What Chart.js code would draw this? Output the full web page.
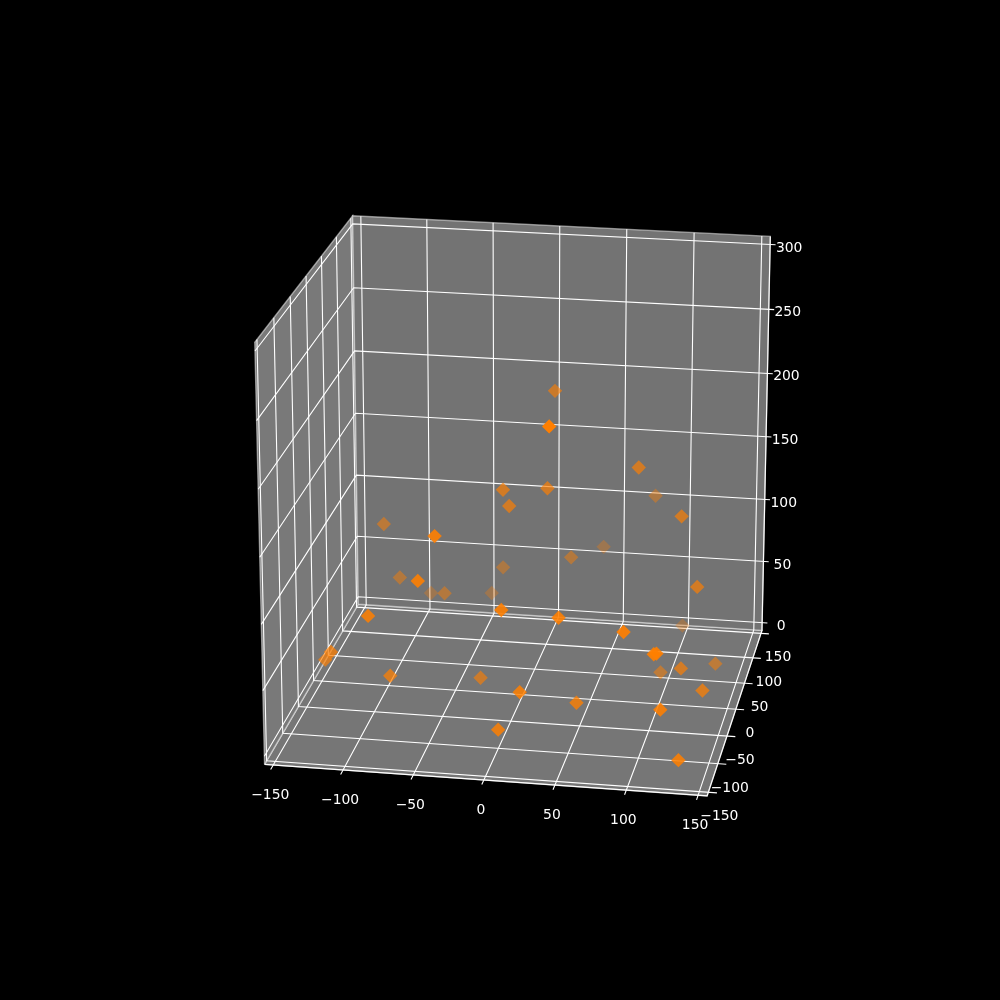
<!DOCTYPE html>
<html>
<head>
<meta charset="utf-8">
<style>body{margin:0;background:#000}canvas{display:block}</style>
<script src="https://cdn.jsdelivr.net/npm/chart.js@4"></script>
</head>
<body>
<canvas id="c" width="1000" height="1000"></canvas>
<script>
const xTicks = [-150, -100, -50, 0, 50, 100, 150];
const yTicks = [-150, -100, -50, 0, 50, 100, 150];
const zTicks = [0, 50, 100, 150, 200, 250, 300];

const xs = [18, 44, 84, 80, 116, -10, 21, -5, -107, -37, 37, 25, -28, -98, -47, -89, -65, -44, 130, 11, -82, 50, 96, 99, -118, -127, 117, 119, 137, 122, 98, -76, -22, 24, 141, 58, 122, 9, 135];
const ys = [30, -148, -3, 112, -9, -25, -19, -28, 23, -139, 140, 62, 74, 35, -149, 106, 37, 114, -25, -148, -150, -143, -149, 130, -109, -88, -149, -150, 30, -46, 21, -107, -50, -149, -72, -114, -149, -150, -149];
const zs = [220, 255, 177, 114, 144, 162, 163, 151, 112, 167, 60, 80, 64, 66, 137, 27, 55, 27, 97, 119, 109, 114, 109, 4, 63, 48, 94, 95, 16, 42, 10, 47, 26, 59, 37, 39, 53, 30, 16];

// same camera as a matplotlib 3d axes: elev 20, azim -80, dist 10
const rad = Math.PI / 180, el = 20 * rad, az = -80 * rad, dist = 10;
const n = [Math.cos(el) * Math.cos(az), Math.cos(el) * Math.sin(az), Math.sin(el)];
const u = [-Math.sin(az), Math.cos(az), 0];
const v = [n[1] * u[2] - n[2] * u[1], n[2] * u[0] - n[0] * u[2], n[0] * u[1] - n[1] * u[0]];
const dot = (a, b) => a[0] * b[0] + a[1] * b[1] + a[2] * b[2];

function project(x, y, z) {
  const p = [(x + 150) / 300 - 0.5, (y + 150) / 300 - 0.5, z / 300 - 0.5];
  const t = dot(n, p), w = dist - t;
  return { x: dot(u, p) / w, y: dot(v, p) / w, t };
}

const pad = 6.25;
const x0 = -150 - pad, x1 = 150 + pad, y0 = -150 - pad, y1 = 150 + pad, z0 = -pad, z1 = 300 + pad;

const line = (path, color, width, extra) => Object.assign({
  type: 'scatter', showLine: true, parsing: false, tension: 0, pointRadius: 0, fill: false,
  data: path.map(q => project(q[0], q[1], q[2])), borderColor: color, borderWidth: width
}, extra || {});

const edge = 'rgba(255,255,255,0.5)';
const datasets = [];
// panes
datasets.push(line([[x0, y0, z0], [x1, y0, z0], [x1, y1, z0], [x0, y1, z0], [x0, y0, z0]], edge, 1.4, { fill: 'shape', backgroundColor: 'rgb(118,118,118)' }));
datasets.push(line([[x0, y0, z0], [x0, y1, z0], [x0, y1, z1], [x0, y0, z1], [x0, y0, z0]], edge, 1.4, { fill: 'shape', backgroundColor: 'rgb(121,121,121)' }));
datasets.push(line([[x0, y1, z0], [x1, y1, z0], [x1, y1, z1], [x0, y1, z1], [x0, y1, z0]], edge, 1.4, { fill: 'shape', backgroundColor: 'rgb(115,115,115)' }));
// grid and ticks
xTicks.forEach(x => datasets.push(line([[x, y0 - 8, z0], [x, y1, z0], [x, y1, z1]], '#fff', 1.1)));
yTicks.forEach(y => datasets.push(line([[x1 + 6, y, z0], [x0, y, z0], [x0, y, z1]], '#fff', 1.1)));
zTicks.forEach(z => datasets.push(line([[x0, y0, z], [x0, y1, z], [x1 + 4, y1, z]], '#fff', 1.1)));
// axis lines
datasets.push(line([[x0, y0, z0], [x1, y0, z0], [x1, y1, z0], [x1, y1, z1]], '#fff', 1.1));

// far points first, faded with depth
const marks = xs.map((x, i) => project(x, ys[i], zs[i])).sort((a, b) => a.t - b.t);
const ts = marks.map(m => m.t), tMin = Math.min(...ts), tMax = Math.max(...ts);
datasets.push({
  type: 'scatter', parsing: false, data: marks, pointStyle: 'rectRot', pointRadius: 7.2, borderWidth: 0,
  backgroundColor: marks.map(m => `rgba(255,127,0,${1 - 0.7 * (tMax - m.t) / (tMax - tMin)})`)
});
// chart.js paints the first dataset on top
datasets.reverse();

const fmt = t => String(t).replace('-', '\u2212');
const tickLabels = {
  id: 'tickLabels',
  afterDraw(chart) {
    const c = chart.ctx, sx = chart.scales.x, sy = chart.scales.y;
    c.save();
    c.fillStyle = '#fff';
    c.font = '13.9px "DejaVu Sans"';
    c.textAlign = 'center';
    c.textBaseline = 'middle';
    const put = (q, dx, dy, t) => {
      const m = project(q[0], q[1], q[2]);
      c.fillText(fmt(t), sx.getPixelForValue(m.x) + dx, sy.getPixelForValue(m.y) + dy);
    };
    xTicks.forEach(x => put([x, y0, z0], -3, 30, x));
    yTicks.forEach(y => put([x1, y, z0], 14 + y / 50, 24.5, y));
    zTicks.forEach(z => put([x1, y1, z], 19, 3.5, z));
    c.restore();
  }
};

new Chart(document.getElementById('c'), {
  type: 'scatter',
  data: { datasets },
  plugins: [tickLabels],
  options: {
    responsive: false,
    animation: false,
    devicePixelRatio: 1,
    layout: { padding: { left: 125, right: 100, top: 120, bottom: 110 } },
    plugins: { legend: { display: false }, tooltip: { enabled: false } },
    scales: {
      x: { display: false, min: -0.095, max: 0.09 },
      y: { display: false, min: -0.095, max: 0.09 }
    }
  }
});
</script>
</body>
</html>
